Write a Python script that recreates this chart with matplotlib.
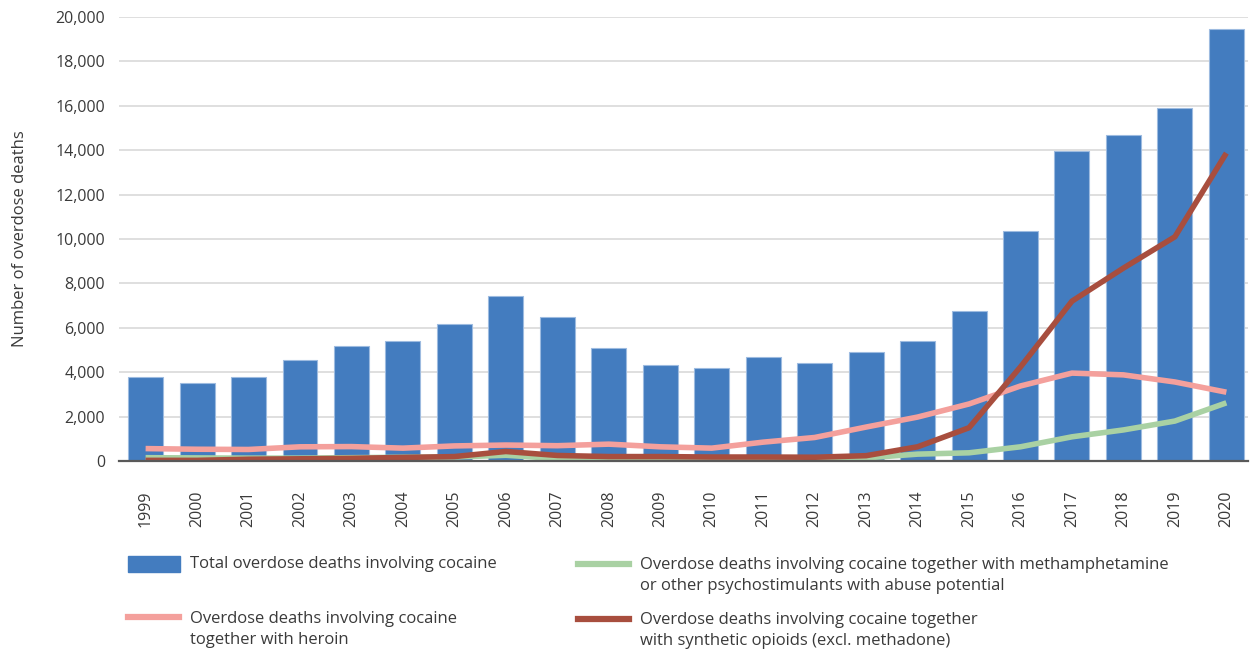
import matplotlib
matplotlib.use("Agg")
import matplotlib.pyplot as plt
from matplotlib.lines import Line2D
from matplotlib.patches import Rectangle
from matplotlib.ticker import FuncFormatter

plt.rcParams["font.family"] = ["Open Sans", "DejaVu Sans"]

years = [str(y) for y in range(1999, 2021)]
total_cocaine = [3800, 3520, 3800, 4560, 5180, 5400, 6180, 7430, 6480, 5100,
                 4330, 4180, 4680, 4400, 4920, 5420, 6750, 10350, 13950, 14680,
                 15880, 19450]
with_heroin = [560, 530, 520, 640, 650, 580, 680, 720, 690, 760,
               640, 580, 850, 1060, 1530, 1980, 2570, 3380, 3960, 3880,
               3560, 3100]
with_psychostim = [150, 140, 130, 130, 150, 170, 180, 260, 110, 100,
                   100, 100, 110, 120, 140, 310, 370, 640, 1090, 1400,
                   1800, 2620]
with_synthetic = [30, 30, 80, 100, 120, 160, 200, 430, 250, 200,
                  200, 180, 180, 170, 240, 640, 1500, 4240, 7200, 8690,
                  10100, 13870]

legend_labels = [
    "Total overdose deaths involving cocaine",
    "Overdose deaths involving cocaine\ntogether with heroin",
    "Overdose deaths involving cocaine together with methamphetamine\nor other psychostimulants with abuse potential",
    "Overdose deaths involving cocaine together\nwith synthetic opioids (excl. methadone)",
]

BLUE = "#437CBF"
PINK = "#F4A09C"
GREEN = "#A9D1A3"
RED = "#A84E3E"
TEXT = "#3A3A3A"

fig = plt.figure(figsize=(12.51, 6.53), dpi=100)
ax = fig.add_axes([0.095, 0.294, 0.903, 0.68])

x = list(range(len(years)))
ax.bar(x, total_cocaine, width=0.68, color=BLUE, edgecolor="#9DBBE0",
       linewidth=0.8, zorder=2)
ax.plot(x, with_heroin, color=PINK, linewidth=4, zorder=3,
        solid_joinstyle="round", solid_capstyle="butt")
ax.plot(x, with_psychostim, color=GREEN, linewidth=4, zorder=3,
        solid_joinstyle="round", solid_capstyle="butt")
ax.plot(x, with_synthetic, color=RED, linewidth=4, zorder=4,
        solid_joinstyle="round", solid_capstyle="butt")

ax.set_xlim(-0.52, 21.43)
ax.set_ylim(0, 20000)
ax.set_yticks(range(0, 20001, 2000))
ax.yaxis.set_major_formatter(FuncFormatter(lambda v, p: f"{int(v):,}"))
ax.set_xticks(x)
ax.set_xticklabels(years, rotation=90)
ax.tick_params(axis="both", length=0, labelsize=11.5, colors=TEXT)
ax.tick_params(axis="x", pad=21)
ax.tick_params(axis="y", pad=10)
ax.grid(axis="y", color="#D9D9D9", linewidth=1.2, zorder=0)
ax.set_axisbelow(True)
for side in ["top", "right", "left"]:
    ax.spines[side].set_visible(False)
ax.spines["bottom"].set_color("#595959")
ax.spines["bottom"].set_linewidth(1.6)
ax.spines["bottom"].set_zorder(5)
ax.set_ylabel("Number of overdose deaths", fontsize=12, color=TEXT)
ax.yaxis.set_label_coords(-0.0805, 0.5)

# legend drawn by hand so the handles sit on the first text line
W, H = 1251, 653


def fx(px):
    return px / W


def fy(py):
    return 1 - py / H


fig.add_artist(Rectangle((fx(128), fy(572)), 52 / W, 16 / H, color=BLUE,
                         transform=fig.transFigure))
for (lx, ly), col in zip([(128, 617), (578, 564), (578, 619)], [PINK, GREEN, RED]):
    fig.add_artist(Line2D([fx(lx), fx(lx + 51)], [fy(ly), fy(ly)], color=col,
                          linewidth=4.5, transform=fig.transFigure))

for (tx, ty), lab in zip([(190, 564), (190, 619), (640, 565), (640, 620)], legend_labels):
    lines = lab.split("\n")
    for i, ln in enumerate(lines):
        fig.text(fx(tx), fy(ty + i * 21), ln, fontsize=12, color=TEXT,
                 ha="left", va="center")

fig.savefig("out.png", dpi=100)
